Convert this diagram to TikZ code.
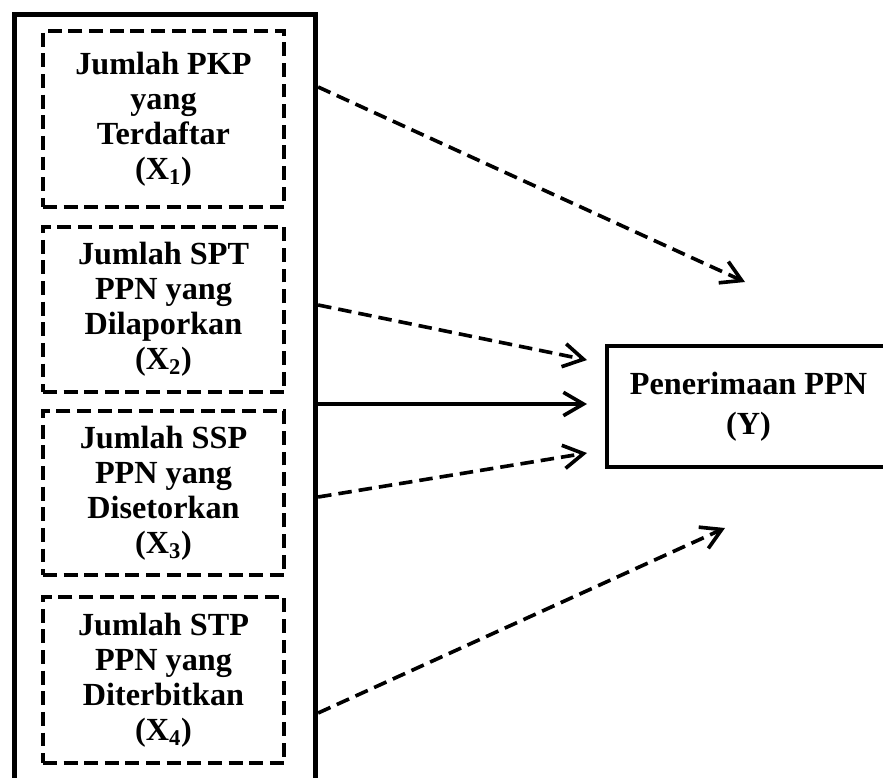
\documentclass[tikz,border=0pt]{standalone}
\usepackage{fontspec}
\setmainfont{Liberation Serif}
\usetikzlibrary{arrows.meta}

\tikzset{
  varbox/.style={draw, line width=3.8pt, dash pattern=on 11.9pt off 5.7pt,
    align=center, inner sep=0pt, minimum width=7.23cm,
    font=\fontsize{27.5}{30}\selectfont\bfseries},
  outerbox/.style={draw, line width=4.5pt, inner sep=0pt},
  ybox/.style={draw, line width=3.8pt, align=center, inner sep=0pt,
    minimum width=8.49cm, minimum height=3.63cm,
    font=\fontsize{27.5}{34}\selectfont\bfseries},
  link/.style={line width=3.1pt,
    -{Straight Barb[length=0.6cm,width=0.7cm,line width=3.1pt]}},
  dlink/.style={link, dash pattern=on 11.5pt off 6pt}
}

\begin{document}
\begin{tikzpicture}[x=0.03cm,y=-0.03cm]
  \clip (0,0) rectangle (883,778);
  % left block with the four variables
  \node[outerbox, minimum width=9.03cm, minimum height=24cm] (vars) at (165,414.5) {};
  \node[varbox, minimum height=5.28cm] (x1) at (163.5,119)
    {Jumlah PKP\\yang\\Terdaftar\\(X\textsubscript{1})};
  \node[varbox, minimum height=4.95cm] (x2) at (163.5,309.5)
    {Jumlah SPT\\PPN yang\\Dilaporkan\\(X\textsubscript{2})};
  \node[varbox, minimum height=4.92cm] (x3) at (163.5,493)
    {Jumlah SSP\\PPN yang\\Disetorkan\\(X\textsubscript{3})};
  \node[varbox, minimum height=4.98cm] (x4) at (163.5,680)
    {Jumlah STP\\PPN yang\\Diterbitkan\\(X\textsubscript{4})};
  % dependent variable
  \node[ybox] (y) at (748.5,406.5) {Penerimaan PPN\\(Y)};
  % arrow ends
  \coordinate (t1) at (745,282);
  \coordinate (t2) at (587,360);
  \coordinate (t3) at (587,404);
  \coordinate (t4) at (587,453);
  \coordinate (t5) at (725,528);
  \draw[dlink] (vars.east |- 0,87) -- (t1);
  \draw[dlink] (vars.east |- 0,305) -- (t2);
  \draw[link] (vars.east |- t3) -- (t3);
  \draw[dlink] (vars.east |- 0,497) -- (t4);
  \draw[dlink] (vars.east |- 0,713) -- (t5);
\end{tikzpicture}
\end{document}
